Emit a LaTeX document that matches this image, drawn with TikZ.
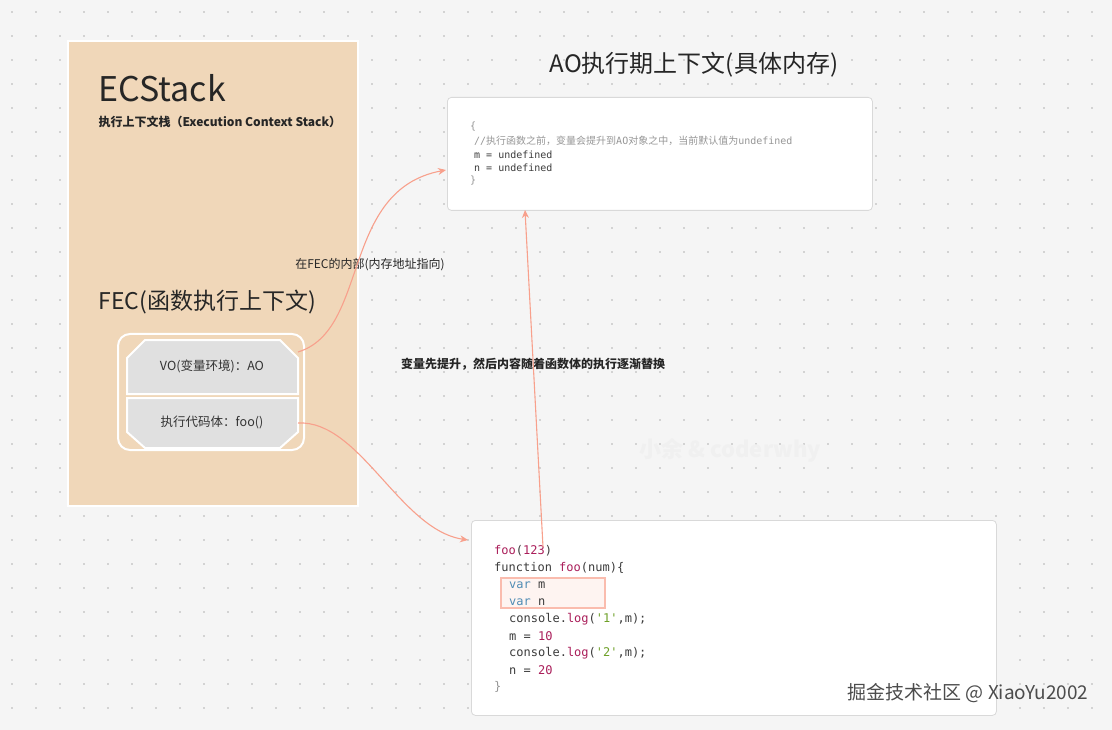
\documentclass[tikz,border=0pt]{standalone}
\usepackage{fontspec}
\setmainfont{Noto Sans CJK SC}
\newfontfamily\cjk{Noto Sans CJK SC}
\newfontfamily\mono{DejaVu Sans Mono}
\usetikzlibrary{arrows.meta}
\definecolor{bgc}{RGB}{245,245,245}
\definecolor{tan}{RGB}{240,215,185}
\definecolor{salmon}{RGB}{248,160,140}
\definecolor{kw}{RGB}{170,30,90}
\definecolor{vr}{RGB}{80,140,180}
\definecolor{st}{RGB}{110,160,40}
\definecolor{cm}{RGB}{150,150,150}
\definecolor{cd}{RGB}{60,60,60}
\tikzset{
 card/.style={draw=black!15,fill=white,rounded corners=4pt,line width=0.8pt},
 conn/.style={draw=salmon,line width=1.1pt,-{Stealth[length=8pt,width=7pt]}},
 cl/.style={anchor=west,inner sep=0pt,font=\mono\fontsize{12}{13}\selectfont,text=cd},
 al/.style={anchor=west,inner sep=0pt,font=\mono\fontsize{10}{11}\selectfont,text=cd},
 gbox/.style={fill=black!12,draw=white,line width=2pt}
}
\begin{document}
\begin{tikzpicture}[x=1pt,y=-1pt]
\fill[bgc] (0,0) rectangle (1112,730);
\useasboundingbox (0,0) rectangle (1112,730);
\foreach \i in {0,...,45}{\foreach \j in {0,...,29}{\fill[black!30] (12+24*\i,12+24*\j) circle (0.9);}}
% ECStack
\node[draw=white,line width=2pt,fill=tan,minimum width=290,minimum height=465,anchor=north west,inner sep=0] (ecs) at (67,40) {};
\node[anchor=west,font=\fontsize{34}{36}\selectfont,text=black!85] (ect) at (95,88) {ECStack};
\node[anchor=west,font=\bfseries\fontsize{12}{14}\selectfont,text=black!85] (ecs2) at (95,122) {执行上下文栈（Execution Context Stack）};
\node[anchor=west,font=\fontsize{23}{26}\selectfont,text=black!85] (fec) at (95,302) {FEC(函数执行上下文)};
\draw[white,line width=2pt,rounded corners=12pt] (118,334) rectangle (304,450);
\draw[gbox] (145,340) -- (280,340) -- (298,358) -- (298,394) -- (127,394) -- (127,358) -- cycle;
\node[font=\fontsize{12.5}{14}\selectfont,text=black!80] (vo) at (212,366) {VO(变量环境)：AO};
\coordinate (voe) at (298,352);
\draw[gbox] (127,398) -- (298,398) -- (298,432) -- (280,448) -- (145,448) -- (127,432) -- cycle;
\node[font=\fontsize{12.5}{14}\selectfont,text=black!80] (ex) at (212,422) {执行代码体：foo()};
\coordinate (exe) at (298,423);
% AO
\node[font=\fontsize{24}{28}\selectfont,text=black!85] (aot) at (694,65) {AO执行期上下文(具体内存)};
\node[card,minimum width=425,minimum height=113,anchor=north west] (ao) at (447,97) {};
\node[al,text=cm] (a1) at (470,127) {\{};
\node[al,text=cm] (a2) at (474,141) {//{\cjk\fontsize{10}{11}\selectfont 执行函数之前，变量会提升到}AO{\cjk\fontsize{10}{11}\selectfont 对象之中，当前默认值为}undefined};
\node[al] (a3) at (474,155) {m = undefined};
\node[al] (a4) at (474,168) {n = undefined};
\node[al,text=cm] (a5) at (470,181) {\}};
% code
\node[card,minimum width=525,minimum height=195,anchor=north west] (code) at (471,520) {};
\fill[salmon!12] (501,578) rectangle (605,608);
\draw[salmon!70,line width=1.3pt] (501,578) rectangle (605,608);
\node[cl] (c1) at (494,551) {\textcolor{kw}{foo}(\textcolor{kw}{123})};
\node[cl] (c2) at (494,568) {function \textcolor{kw}{foo}(num)\{};
\node[cl] (c3) at (509,585) {\textcolor{vr}{var} m};
\node[cl] (c4) at (509,602) {\textcolor{vr}{var} n};
\node[cl] (c5) at (509,619) {console.\textcolor{kw}{log}(\textcolor{st}{'1'},m);};
\node[cl] (c6) at (509,636) {m = \textcolor{kw}{10}};
\node[cl] (c7) at (509,653) {console.\textcolor{kw}{log}(\textcolor{st}{'2'},m);};
\node[cl] (c8) at (509,670) {n = \textcolor{kw}{20}};
\node[cl,text=cm] (c9) at (494,687) {\}};
% labels
\node[font=\fontsize{12}{14}\selectfont,text=black!85] (l1) at (370,265) {在FEC的内部(内存地址指向)};
\node[font=\bfseries\fontsize{12}{14}\selectfont,text=black!85] (l2) at (533,364) {变量先提升，然后内容随着函数体的执行逐渐替换};
\node[font=\bfseries\fontsize{22}{24}\selectfont,text=black!6] (wm) at (730,450) {小余 \& coderwhy};
\node[anchor=east,font=\fontsize{19}{22}\selectfont,text=black!70] (wm2) at (1092,693) {掘金技术社区 @ XiaoYu2002};
% connectors
\draw[conn] (voe) .. controls (370,330) and (340,190) .. (446,170);
\draw[conn] (exe) .. controls (360,420) and (400,530) .. (468,540);
\coordinate (cs) at (543,547);
\draw[conn] (cs) -- (525,210);
\end{tikzpicture}
\end{document}
